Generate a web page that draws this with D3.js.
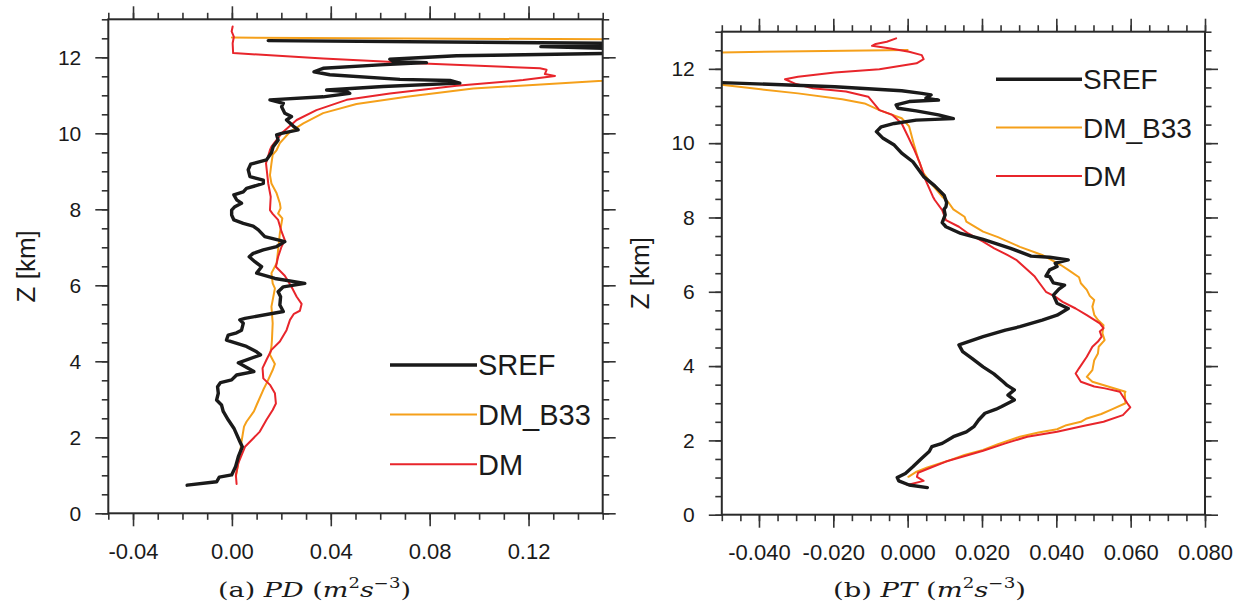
<!DOCTYPE html>
<html><head><meta charset="utf-8">
<script src="https://cdn.jsdelivr.net/npm/d3@7"></script>
<style>
html,body{margin:0;padding:0;background:#fff;}
svg{display:block;}
</style></head>
<body>
<svg id="chart" width="1243" height="605"></svg>
<script>
// ---------------- DATA ----------------
// series names and colours
const seriesNames = ["SREF", "DM_B33", "DM"];
const seriesColors = ["#1a1a1a", "#f5a01a", "#e8252b"];

// panel (a): PD, pairs [value, Z km]
const pdSref = [[-0.0181,0.74],[-0.0062,0.83],[-0.0051,0.95],[-0.0001,1.01],[0.0015,1.23],[0.0026,1.49],[0.0042,1.75],[0.0032,1.89],[0.0008,2.24],[-0.0015,2.46],[-0.0035,2.68],[-0.0042,2.85],[-0.0062,2.98],[-0.0055,3.16],[-0.0058,3.33],[-0.0046,3.44],[-0.0001,3.51],[0.0019,3.64],[0.0089,3.73],[0.0026,3.96],[0.0116,4.17],[0.0100,4.25],[0.0059,4.39],[-0.0022,4.56],[-0.0015,4.69],[0.0019,4.75],[0.0039,4.82],[0.0046,5.0],[0.0032,5.09],[0.0053,5.13],[0.0208,5.31],[0.0194,5.48],[0.0197,5.70],[0.0187,5.83],[0.0208,5.96],[0.0295,6.05],[0.0174,6.18],[0.0100,6.32],[0.0120,6.49],[0.0093,6.62],[0.0070,6.75],[0.0086,6.84],[0.0127,6.93],[0.0181,7.02],[0.0214,7.15],[0.0133,7.28],[0.0107,7.46],[0.0086,7.56],[0.0046,7.63],[0.0008,7.72],[-0.0001,7.85],[-0.0001,7.98],[0.0012,8.07],[0.0039,8.16],[0.0019,8.25],[0.0008,8.38],[0.0046,8.46],[0.0059,8.55],[0.0127,8.68],[0.0127,8.77],[0.0073,8.86],[0.0066,9.04],[0.0076,9.19],[0.0140,9.30],[0.0160,9.49],[0.0167,9.65],[0.0187,9.82],[0.0181,9.96],[0.0201,10.0],[0.0268,10.09],[0.0248,10.19],[0.0221,10.35],[0.0241,10.44],[0.0214,10.53],[0.0201,10.70],[0.0208,10.79],[0.0154,10.88],[0.0369,10.96],[0.0477,11.05],[0.0464,11.10],[0.0383,11.14],[0.0612,11.23],[0.0922,11.32],[0.0882,11.39],[0.0680,11.42],[0.0396,11.54],[0.0332,11.62],[0.0369,11.71],[0.0599,11.80],[0.0787,11.86],[0.0653,11.89],[0.0639,11.95],[0.0909,12.04],[0.17,12.12],[0.17,12.20],[0.125,12.28],[0.17,12.36],[0.0147,12.44]];
const pdB33 = [[0.0016,0.96],[0.0032,1.54],[0.0039,1.89],[0.0049,2.28],[0.0059,2.41],[0.0089,2.68],[0.0100,2.85],[0.0127,3.25],[0.0143,3.46],[0.0165,3.77],[0.0174,3.93],[0.0154,4.17],[0.0160,4.39],[0.0162,4.56],[0.0165,5.0],[0.0160,5.44],[0.0174,5.92],[0.0165,6.05],[0.0160,6.32],[0.0181,6.58],[0.0187,6.93],[0.0194,7.37],[0.0204,7.76],[0.0187,7.89],[0.0197,8.03],[0.0194,8.16],[0.0181,8.42],[0.0160,8.68],[0.0154,8.90],[0.0160,9.21],[0.0165,9.43],[0.0181,9.56],[0.0194,9.74],[0.0235,10.04],[0.0289,10.26],[0.0369,10.53],[0.0504,10.77],[0.0707,10.96],[0.0976,11.18],[0.150,11.38],[0.2,11.9],[0.2,12.4],[0.16,12.47],[0.0,12.52]];
const pdDm = [[0.0019,0.77],[0.0016,1.01],[0.0026,1.32],[0.0053,1.75],[0.0086,1.97],[0.0113,2.15],[0.0140,2.46],[0.0165,2.72],[0.0178,2.89],[0.0174,3.16],[0.0154,3.38],[0.0127,3.55],[0.0124,3.82],[0.0140,4.04],[0.0160,4.30],[0.0194,4.52],[0.0221,4.82],[0.0235,5.09],[0.0251,5.25],[0.0275,5.33],[0.0282,5.51],[0.0262,5.70],[0.0241,5.96],[0.0214,6.25],[0.0178,6.49],[0.0187,6.75],[0.0201,7.02],[0.0214,7.19],[0.0201,7.41],[0.0187,7.72],[0.0165,7.88],[0.0154,7.98],[0.0157,8.33],[0.0147,8.68],[0.0138,9.21],[0.0154,9.56],[0.0160,9.65],[0.0201,10.0],[0.0262,10.35],[0.0342,10.61],[0.0464,10.88],[0.0639,11.05],[0.0909,11.25],[0.1178,11.40],[0.1307,11.51],[0.1266,11.56],[0.1273,11.67],[0.1246,11.71],[0.0774,11.84],[0.0369,11.97],[0.0005,12.11],[0.0003,12.37],[0.0008,12.54],[-0.0001,12.68],[0.0003,12.81]];

// panel (b): PT, pairs [value, Z km]
const ptSref = [[0.0053,0.73],[0.0004,0.80],[-0.0024,0.91],[-0.0028,1.00],[-0.0006,1.11],[0.0014,1.29],[0.0038,1.52],[0.0058,1.70],[0.0065,1.83],[0.0093,1.92],[0.0123,2.10],[0.0158,2.23],[0.0178,2.37],[0.0191,2.55],[0.0208,2.73],[0.0238,2.84],[0.0253,2.91],[0.0287,3.09],[0.0270,3.22],[0.0287,3.36],[0.0268,3.48],[0.0257,3.58],[0.0232,3.79],[0.0203,3.98],[0.0173,4.21],[0.0148,4.39],[0.0138,4.57],[0.0203,4.79],[0.0263,4.97],[0.0302,5.06],[0.0362,5.24],[0.0402,5.37],[0.0432,5.55],[0.0402,5.69],[0.0392,5.91],[0.0407,6.07],[0.0422,6.18],[0.0392,6.24],[0.0382,6.41],[0.0372,6.42],[0.0382,6.59],[0.0402,6.68],[0.0397,6.77],[0.0432,6.86],[0.0382,6.93],[0.0332,6.96],[0.0277,7.17],[0.0203,7.41],[0.0143,7.57],[0.0103,7.75],[0.0093,7.86],[0.0101,8.07],[0.0098,8.22],[0.0103,8.29],[0.0105,8.40],[0.0098,8.60],[0.0073,8.85],[0.0043,9.10],[0.0014,9.50],[-0.0016,9.73],[-0.0036,9.95],[-0.0066,10.13],[-0.0084,10.31],[-0.0071,10.44],[-0.0036,10.53],[0.0023,10.62],[0.0123,10.66],[0.0083,10.76],[0.0023,10.87],[-0.0026,10.94],[-0.0031,11.03],[0.0004,11.12],[0.0083,11.16],[0.0049,11.21],[0.0063,11.30],[0.0038,11.34],[-0.0016,11.41],[-0.0196,11.52],[-0.0501,11.63],[-0.06,11.64]];
const ptB33 = [[0.0002,1.02],[0.0024,1.16],[0.0053,1.27],[0.0103,1.43],[0.0153,1.61],[0.0203,1.74],[0.0243,1.90],[0.0302,2.10],[0.0352,2.21],[0.0402,2.30],[0.0427,2.41],[0.0466,2.50],[0.0482,2.59],[0.0521,2.71],[0.0551,2.84],[0.0586,3.00],[0.0584,3.28],[0.0586,3.31],[0.0497,3.58],[0.0482,3.71],[0.0497,3.89],[0.0502,4.16],[0.0512,4.34],[0.0514,4.52],[0.0530,4.70],[0.0524,4.88],[0.0527,5.10],[0.0512,5.24],[0.0502,5.38],[0.0497,5.60],[0.0502,5.78],[0.0490,5.89],[0.0482,6.05],[0.0466,6.23],[0.0461,6.39],[0.0432,6.59],[0.0412,6.72],[0.0362,6.99],[0.0302,7.21],[0.0243,7.47],[0.0203,7.62],[0.0158,7.89],[0.0153,8.02],[0.0123,8.22],[0.0108,8.43],[0.0093,8.56],[0.0063,8.92],[0.0043,9.19],[0.0029,9.55],[0.0016,10.0],[0.0004,10.45],[-0.0016,10.67],[-0.0076,10.89],[-0.0116,11.07],[-0.0176,11.18],[-0.0295,11.34],[-0.0395,11.45],[-0.0501,11.57],[-0.07,11.8],[-0.07,12.4],[-0.052,12.44],[0.0,12.51]];
const ptDm = [[-0.0001,0.80],[0.0043,0.91],[0.0025,1.02],[0.0028,1.13],[0.0063,1.27],[0.0103,1.43],[0.0203,1.72],[0.0263,1.92],[0.0322,2.10],[0.0402,2.23],[0.0472,2.39],[0.0527,2.50],[0.0579,2.68],[0.0599,2.89],[0.0591,3.00],[0.0571,3.31],[0.0531,3.40],[0.0502,3.45],[0.0466,3.58],[0.0452,3.80],[0.0461,3.94],[0.0482,4.25],[0.0497,4.52],[0.0512,4.66],[0.0522,4.79],[0.0517,4.93],[0.0527,5.02],[0.0517,5.15],[0.0482,5.37],[0.0452,5.55],[0.0417,5.73],[0.0397,5.87],[0.0372,6.00],[0.0352,6.27],[0.0342,6.41],[0.0322,6.59],[0.0292,6.86],[0.0268,6.99],[0.0233,7.17],[0.0203,7.35],[0.0163,7.57],[0.0138,7.75],[0.0103,7.93],[0.0093,8.20],[0.0073,8.47],[0.0068,8.56],[0.0048,9.01],[0.0033,9.46],[0.0018,9.82],[-0.0001,10.22],[-0.0016,10.53],[-0.0041,10.76],[-0.0076,10.89],[-0.0106,11.25],[-0.0166,11.39],[-0.0255,11.48],[-0.0300,11.59],[-0.0330,11.72],[-0.0295,11.79],[-0.0196,11.90],[-0.0076,11.99],[0.0024,12.15],[0.0043,12.26],[0.0038,12.37],[0.0004,12.46],[-0.0046,12.55],[-0.0096,12.62],[-0.0086,12.67],[-0.0056,12.73],[-0.0031,12.82]];

// axes / ticks
const zDomain = [0, 13];
const zTicks = [0, 2, 4, 6, 8, 10, 12];
const zTickLabels = ["0", "2", "4", "6", "8", "10", "12"];
const pdDomain = [-0.05, 0.15];
const pdTicks = [-0.04, 0.00, 0.04, 0.08, 0.12];
const pdTickLabels = ["-0.04", "0.00", "0.04", "0.08", "0.12"];
const ptDomain = [-0.05, 0.08];
const ptTicks = [-0.04, -0.02, 0.00, 0.02, 0.04, 0.06, 0.08];
const ptTickLabels = ["-0.040", "-0.020", "0.000", "0.020", "0.040", "0.060", "0.080"];
const yTitle = "Z [km]";

// ---------------- DRAW ----------------
const svg = d3.select("#chart");
const SANS = "'Liberation Sans', Arial, Helvetica, sans-serif";
const SERIF = "'DejaVu Serif', 'Liberation Serif', serif";

function panel(o) {
  const x = d3.scaleLinear(o.xDomain, [o.left, o.right]);
  const y = d3.scaleLinear(zDomain, [o.bottom, o.top]);
  const g = svg.append("g");

  const xMinor = d3.range(Math.round(o.xDomain[0] / o.xMinorStep), Math.round(o.xDomain[1] / o.xMinorStep) + 1).map(i => i * o.xMinorStep);
  const yMinor = d3.range(0, 27).map(i => i * 0.5);

  const fmtX = d => o.xLabels[o.xTicks.findIndex(t => Math.abs(t - d) < 1e-9)];
  const fmtY = d => zTickLabels[zTicks.indexOf(d)];

  function styleAxis(sel) {
    sel.select(".domain").remove();
    sel.selectAll("line").attr("stroke", "#333").attr("stroke-width", 1.6);
    sel.selectAll("text").attr("font-family", SANS).attr("fill", "#1a1a1a");
  }
  // minor ticks
  g.append("g").attr("transform", `translate(0,${o.bottom})`).call(d3.axisBottom(x).tickValues(xMinor).tickSize(6.5).tickFormat("")).call(styleAxis);
  g.append("g").attr("transform", `translate(0,${o.top})`).call(d3.axisTop(x).tickValues(xMinor).tickSize(6.5).tickFormat("")).call(styleAxis);
  g.append("g").attr("transform", `translate(${o.left},0)`).call(d3.axisLeft(y).tickValues(yMinor).tickSize(6.5).tickFormat("")).call(styleAxis);
  g.append("g").attr("transform", `translate(${o.right},0)`).call(d3.axisRight(y).tickValues(yMinor).tickSize(6.5).tickFormat("")).call(styleAxis);
  // major ticks
  const bx = g.append("g").attr("transform", `translate(0,${o.bottom})`)
    .call(d3.axisBottom(x).tickValues(o.xTicks).tickSize(13).tickPadding(17).tickFormat(fmtX)).call(styleAxis);
  bx.selectAll("text").attr("font-size", 22);
  g.append("g").attr("transform", `translate(0,${o.top})`).call(d3.axisTop(x).tickValues(o.xTicks).tickSize(13).tickFormat("")).call(styleAxis);
  const ly = g.append("g").attr("transform", `translate(${o.left},0)`)
    .call(d3.axisLeft(y).tickValues(zTicks).tickSize(13).tickPadding(14).tickFormat(fmtY)).call(styleAxis);
  ly.selectAll("text").attr("font-size", 21);
  g.append("g").attr("transform", `translate(${o.right},0)`).call(d3.axisRight(y).tickValues(zTicks).tickSize(13).tickFormat("")).call(styleAxis);

  // clip
  const cid = "clip" + o.id;
  svg.append("defs").append("clipPath").attr("id", cid).append("rect")
    .attr("x", o.left).attr("y", o.top).attr("width", o.right - o.left).attr("height", o.bottom - o.top);

  const line = d3.line().x(d => x(d[0])).y(d => y(d[1]));
  const plot = g.append("g").attr("clip-path", `url(#${cid})`);
  const widths = [3.4, 2.0, 2.0];
  // draw order: DM_B33, DM, SREF on top
  [1, 2, 0].forEach(i => {
    plot.append("path").datum(o.series[i]).attr("d", line)
      .attr("fill", "none").attr("stroke", seriesColors[i]).attr("stroke-width", widths[i])
      .attr("stroke-linejoin", "round").attr("stroke-linecap", "round");
  });

  // frame
  g.append("rect").attr("x", o.left).attr("y", o.top).attr("width", o.right - o.left).attr("height", o.bottom - o.top)
    .attr("fill", "none").attr("stroke", "#2a2a2a").attr("stroke-width", 2);

  // y title
  g.append("text").attr("transform", `translate(${o.yTitleX},${(o.top + o.bottom) / 2}) rotate(-90)`)
    .attr("text-anchor", "middle").attr("font-family", SANS).attr("font-size", 26).attr("fill", "#1a1a1a").text(yTitle);

  // legend
  seriesNames.forEach((nm, i) => {
    const ly0 = o.legY + i * o.legDy;
    g.append("line").attr("x1", o.legX1).attr("x2", o.legX2).attr("y1", ly0).attr("y2", ly0)
      .attr("stroke", seriesColors[i]).attr("stroke-width", widths[i]);
    g.append("text").attr("x", o.legX2 + 1).attr("y", ly0 + o.legFont * 0.36)
      .attr("font-family", SANS).attr("font-size", o.legFont).attr("fill", "#1a1a1a").text(nm);
  });

  // caption
  const cap = g.append("text").attr("x", o.capX).attr("y", 597).attr("font-family", SERIF).attr("font-size", 21).attr("fill", "#1a1a1a")
    .attr("textLength", 193).attr("lengthAdjust", "spacingAndGlyphs");
  cap.append("tspan").text(o.capLetter + " ");
  cap.append("tspan").attr("font-style", "italic").text(o.capVar);
  cap.append("tspan").text(" (");
  cap.append("tspan").attr("font-style", "italic").text("m");
  cap.append("tspan").attr("font-size", 14).attr("dy", -9).text("2");
  cap.append("tspan").attr("font-style", "italic").attr("dy", 9).text("s");
  cap.append("tspan").attr("font-size", 14).attr("dy", -9).text("\u22123");
  cap.append("tspan").attr("dy", 9).text(")");
}

panel({
  id: "a", xDomain: pdDomain, xTicks: pdTicks, xLabels: pdTickLabels, xMinorStep: 0.01,
  left: 108.3, right: 602.7, top: 19.3, bottom: 513.3,
  series: [pdSref, pdB33, pdDm],
  yTitleX: 35, legX1: 390, legX2: 477, legY: 365, legDy: 49.6, legFont: 29,
  capX: 218, capLetter: "(a)", capVar: "PD"
});
panel({
  id: "b", xDomain: ptDomain, xTicks: ptTicks, xLabels: ptTickLabels, xMinorStep: 0.005,
  left: 721.8, right: 1205, top: 31.7, bottom: 514.7,
  series: [ptSref, ptB33, ptDm],
  yTitleX: 649, legX1: 996, legX2: 1082, legY: 79.3, legDy: 48.3, legFont: 28,
  capX: 833, capLetter: "(b)", capVar: "PT"
});
</script>
</body></html>
